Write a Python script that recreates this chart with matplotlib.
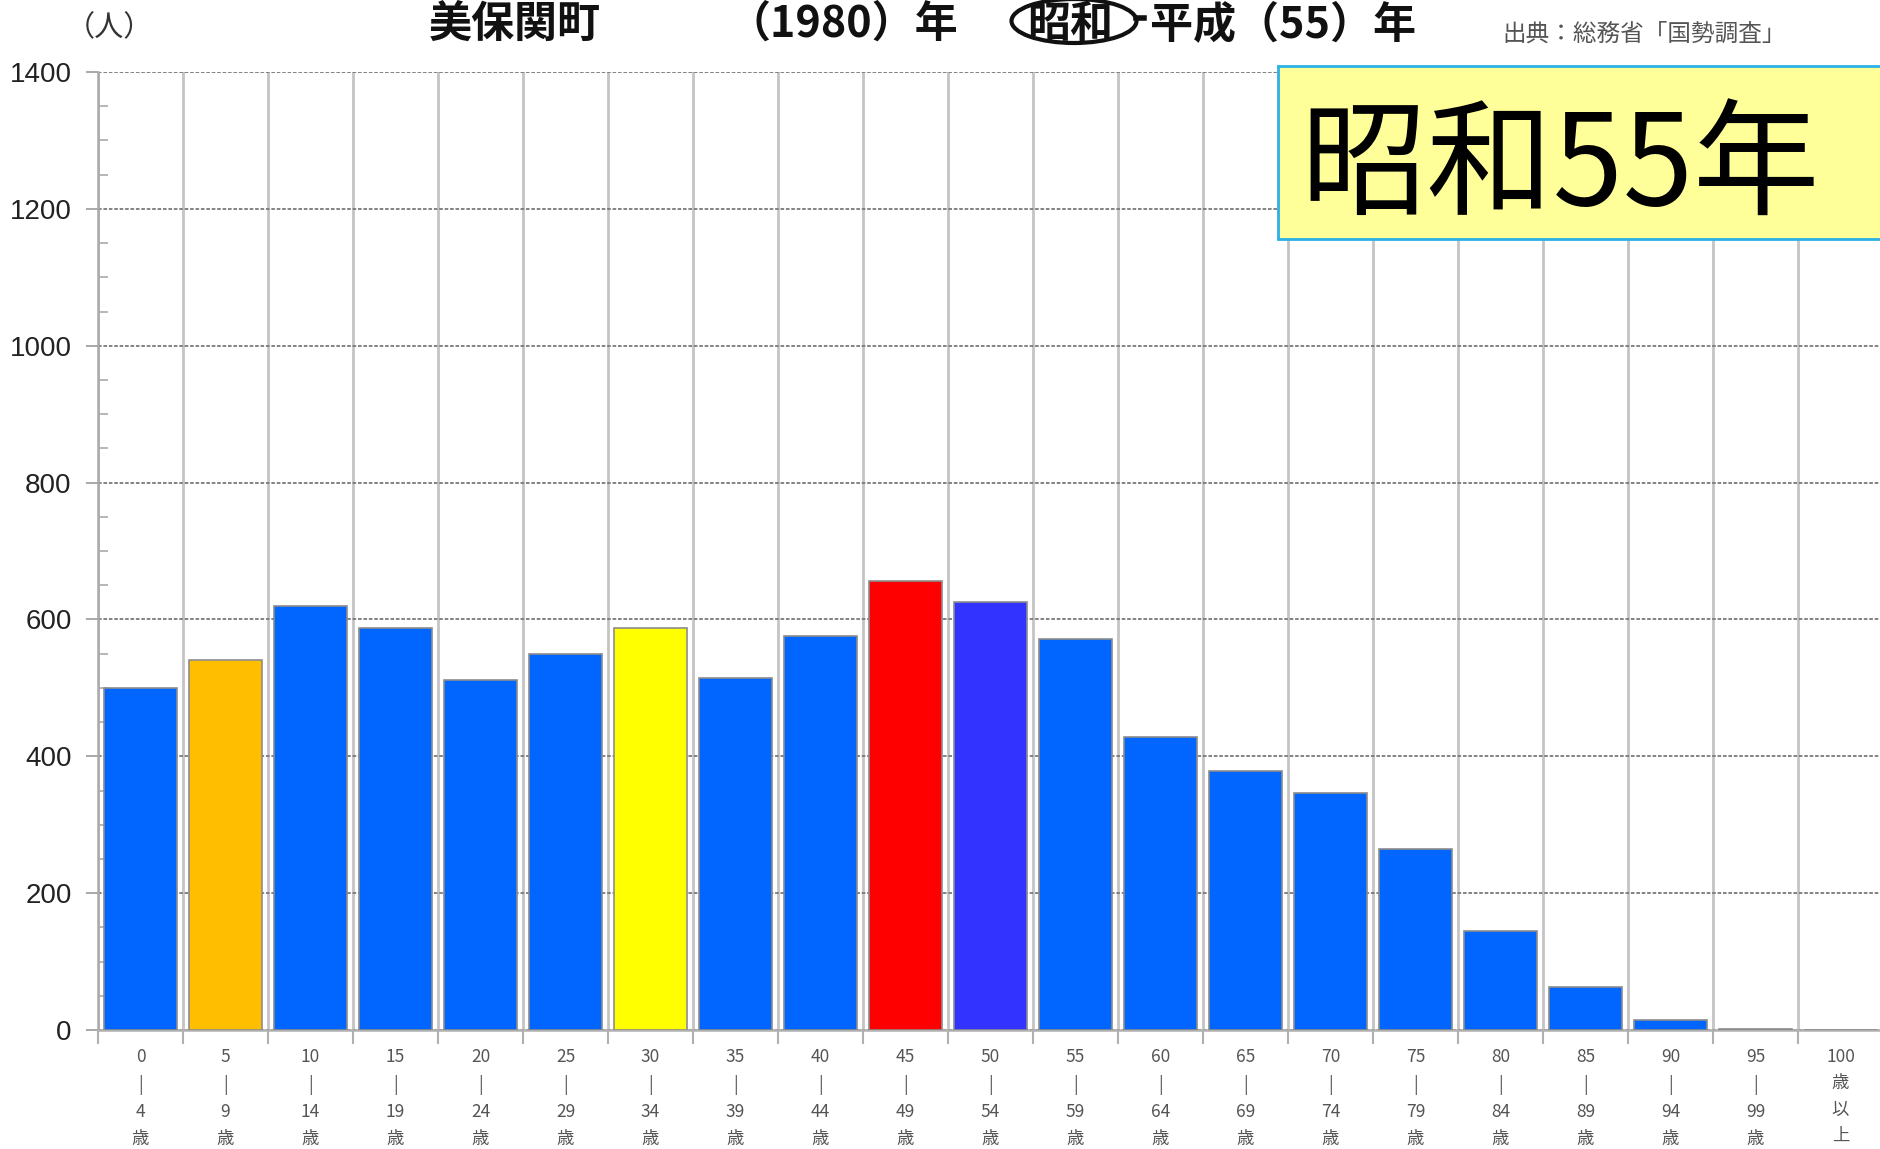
import matplotlib
matplotlib.use("Agg")
import matplotlib.pyplot as plt
from matplotlib.patches import Ellipse, Rectangle
from matplotlib.lines import Line2D
import numpy as np

plt.rcParams['font.family'] = ['Noto Sans CJK JP', 'DejaVu Sans']

# ---- data ----
age_start = ["0", "5", "10", "15", "20", "25", "30", "35", "40", "45", "50",
             "55", "60", "65", "70", "75", "80", "85", "90", "95", "100"]
age_end = ["4", "9", "14", "19", "24", "29", "34", "39", "44", "49", "54",
           "59", "64", "69", "74", "79", "84", "89", "94", "99", None]
population = [500, 541, 620, 588, 511, 549, 588, 514, 576, 656, 626,
              571, 428, 379, 347, 265, 144, 63, 14, 2, 0]
bar_colors = ["#0066FF", "#FFBF00", "#0066FF", "#0066FF", "#0066FF", "#0066FF",
              "#FFFF00", "#0066FF", "#0066FF", "#FF0000", "#3333FF", "#0066FF",
              "#0066FF", "#0066FF", "#0066FF", "#0066FF", "#0066FF", "#0066FF",
              "#0066FF", "#0066FF", "#0066FF"]
y_ticks = [0, 200, 400, 600, 800, 1000, 1200, 1400]

W, H = 1880, 1149
fig = plt.figure(figsize=(W / 100, H / 100), dpi=100)

def fx(x):
    return x / W

def fy(y):
    return 1 - y / H

ax_left, ax_right, ax_top, ax_bot = 98, 1883, 72, 1030
ax = fig.add_axes([fx(ax_left), fy(ax_bot), (ax_right - ax_left) / W, (ax_bot - ax_top) / H])

n = len(population)
xc = np.arange(n) + 0.5
ax.bar(xc, population, width=0.86, color=bar_colors, edgecolor="#8c8c8c",
       linewidth=1.2, zorder=3)

ax.set_xlim(0, n)
ax.set_ylim(0, 1400)

# grid
for yv in y_ticks:
    ax.axhline(yv, color="#7a7a7a", linewidth=1.3, linestyle=(0, (2, 1)), zorder=2)
for i in range(n + 1):
    ax.axvline(i, color="#c4c4c4", linewidth=2, zorder=1)

for s in ["top", "right"]:
    ax.spines[s].set_visible(False)
ax.spines["left"].set_color("#aaaaaa")
ax.spines["left"].set_linewidth(1.8)
ax.spines["bottom"].set_color("#b0b0b0")
ax.spines["bottom"].set_linewidth(1.8)

ax.set_yticks(y_ticks)
ax.set_yticklabels([str(v) for v in y_ticks], fontsize=20, color="#222222",
                   family=['Liberation Sans', 'DejaVu Sans'])
ax.set_yticks(np.arange(0, 1401, 50), minor=True)
ax.tick_params(axis="y", which="major", direction="out", length=9, width=1.2,
               color="#999999", pad=10)
ax.tick_params(axis="y", which="minor", direction="in", length=7, width=1.2,
               color="#aaaaaa")

# x ticks at boundaries (no labels) + labels at centers via minor ticks
ax.set_xticks(np.arange(n + 1))
ax.set_xticklabels([])
ax.tick_params(axis="x", which="major", direction="out", length=10, width=1.5,
               color="#b0b0b0")
labels = []
for s, e in zip(age_start, age_end):
    if e is None:
        labels.append(f"{s}\n歳\n以\n上")
    else:
        labels.append(f"{s}\n|\n{e}\n歳")
ax.set_xticks(xc, minor=True)
ax.set_xticklabels(labels, minor=True, fontsize=12.5, color="#555555",
                   linespacing=1.6)
ax.tick_params(axis="x", which="minor", length=0, pad=13)

# ---- header texts ----
fig.text(fx(66), fy(36), "（人）", fontsize=21, color="#333333", va="baseline", ha="left")
title_kw = dict(fontsize=31, fontweight="bold", va="baseline", ha="left", color="#111111")
fig.text(fx(429), fy(37), "美保関町", **title_kw)
fig.text(fx(727), fy(37), "（1980）年", **title_kw)
fig.text(fx(1027), fy(37), "昭和", **title_kw)
fig.text(fx(1150), fy(37), "平成（55）年", **title_kw)
ell = Ellipse((fx(1074), fy(21)), width=125 / W, height=44 / H, transform=fig.transFigure,
              fill=False, edgecolor="#111111", linewidth=3)
fig.add_artist(ell)
fig.add_artist(Line2D([fx(1136), fx(1144)], [fy(18), fy(18)], transform=fig.transFigure,
                      color="#111111", linewidth=4))
fig.text(fx(1502), fy(34), "出典：総務省「国勢調査」", fontsize=17, color="#555555",
         va="center", ha="left")

# yellow box
box = Rectangle((fx(1278), fy(239)), (1885 - 1278) / W, (239 - 66) / H,
                transform=fig.transFigure, facecolor="#FFFF99", edgecolor="#2BB0E8",
                linewidth=2, zorder=10)
fig.add_artist(box)
fig.text(fx(1300), fy(169), "昭和55年", fontsize=91, color="black", va="center",
         ha="left", zorder=11)

fig.savefig("out.png", dpi=100)
